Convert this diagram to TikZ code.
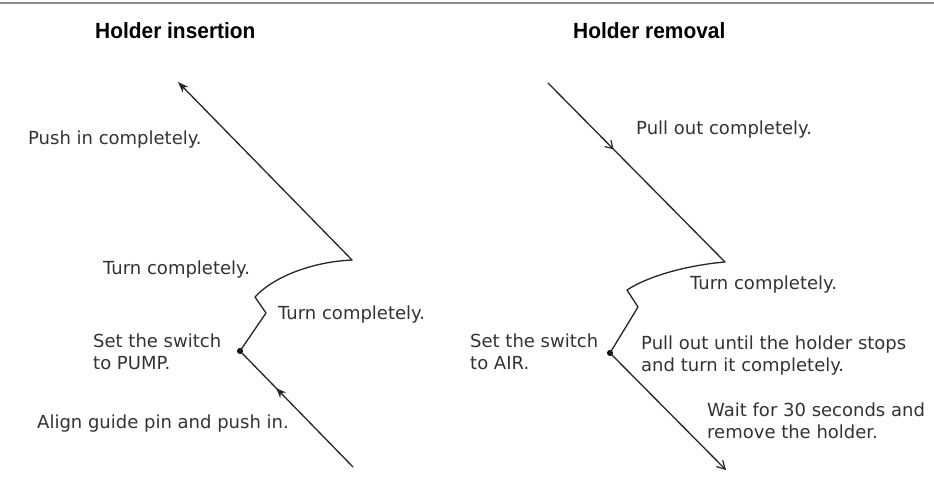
\documentclass[tikz,border=0pt]{standalone}
\usepackage{fontspec}
\setmainfont{DejaVu Sans}
\newfontfamily\headfont[FakeStretch=0.95]{Liberation Sans}
\usetikzlibrary{arrows.meta,decorations.markings}

\tikzset{
  label/.style={font=\fontsize{18}{22}\selectfont, text=black!80, inner sep=0pt, align=left, anchor=west},
  heading/.style={font=\headfont\bfseries\fontsize{22}{24}\selectfont, inner sep=0pt, anchor=base west},
  track/.style={line width=1.3pt, draw=black!85, line join=round, line cap=round},
  solidtip/.style={-{Stealth[length=11pt,width=8pt]}},
  barbtip/.style={-{Straight Barb[length=8pt,width=9pt,line width=1.2pt]}},
  midsolid/.style={postaction={decorate,decoration={markings,
      mark=at position #1 with {\arrow{Stealth[length=10pt,width=8pt]}}}}},
  midbarb/.style={postaction={decorate,decoration={markings,
      mark=at position #1 with {\arrow{Straight Barb[length=7pt,width=9pt,line width=1.2pt]}}}}},
  stopdot/.style={circle, fill=black, inner sep=0pt, minimum size=6pt},
}

\begin{document}
\begin{tikzpicture}[x=1pt,y=-1pt]
  \useasboundingbox (0,0) rectangle (934,481);
  \fill[white] (0,0) rectangle (934,481);

  % rule along the top edge
  \coordinate (ruleL) at (0,3);
  \coordinate (ruleR) at (934,3);
  \draw[black!45, line width=2pt] (ruleL) -- (ruleR);

  % headings
  \node[heading] (hIns) at (95,39) {Holder insertion};
  \node[heading] (hRem) at (573,39) {Holder removal};

  % ---- insertion path ----
  \coordinate (iStart) at (353,467);
  \node[stopdot] (iStop) at (240,351) {};
  \coordinate (iKinkA) at (266,313);
  \coordinate (iKinkB) at (255,297);
  \coordinate (iTurn) at (352,260);
  \coordinate (iEnd) at (178,82);

  \draw[track, midsolid=0.68] (iStart) -- (iStop.center);
  \draw[track] (iStop.center) -- (iKinkA) -- (iKinkB)
     .. controls (272,278) and (310,262) .. (iTurn);
  \draw[track, solidtip] (iTurn) -- (iEnd);

  \node[label] (tPush) at (28,140) {Push in completely.};
  \node[label] (tTurnA) at (103,270) {Turn completely.};
  \node[label] (tTurnB) at (278,315) {Turn completely.};
  \node[label] (tPump) at (93,352) {Set the switch\\to PUMP.};
  \node[label] (tAlign) at (37,424) {Align guide pin and push in.};

  % ---- removal path ----
  \coordinate (rStart) at (548,83);
  \coordinate (rTurn) at (725,262);
  \coordinate (rKinkA) at (627,290);
  \coordinate (rKinkB) at (638,307);
  \node[stopdot] (rStop) at (610,353) {};
  \coordinate (rEnd) at (726,470);

  \draw[track, midbarb=0.37] (rStart) -- (rTurn);
  \draw[track] (rTurn) .. controls (690,265) and (650,275) .. (rKinkA)
     -- (rKinkB) -- (rStop.center);
  \draw[track, barbtip] (rStop.center) -- (rEnd);

  \node[label] (tPull) at (636,130) {Pull out completely.};
  \node[label] (tTurnC) at (690,285) {Turn completely.};
  \node[label] (tAir) at (470,352) {Set the switch\\to AIR.};
  \node[label] (tStops) at (641,356) {Pull out until the holder stops\\and turn it completely.};
  \node[label] (tWait) at (707,421) {Wait for 30 seconds and\\remove the holder.};
\end{tikzpicture}
\end{document}
